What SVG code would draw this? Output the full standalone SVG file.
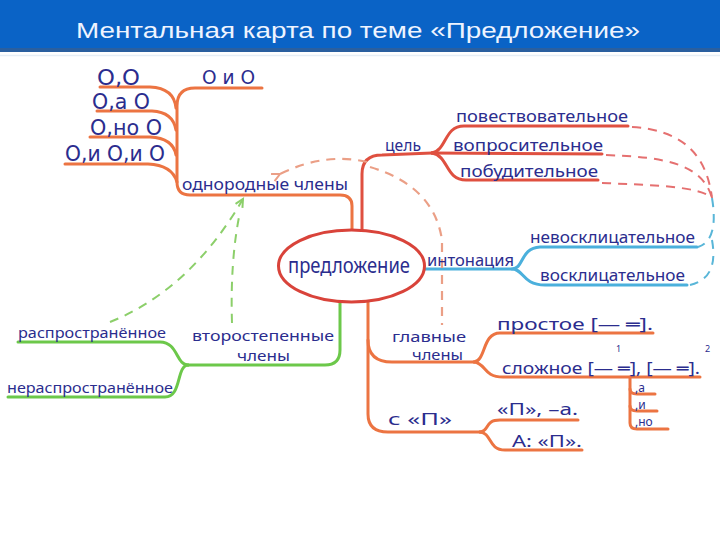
<svg xmlns="http://www.w3.org/2000/svg" width="720" height="540" viewBox="0 0 720 540">
<defs>
<style>
.t{font-family:"Noto Sans","DejaVu Sans",sans-serif;fill:#2b2d8e;}
.o{font-family:"DejaVu Sans",sans-serif;fill:#2b2d8e;}
.ln{fill:none;stroke-width:3;stroke-linecap:round;stroke-linejoin:round;}
.or{stroke:#ec7442;}
.rd{stroke:#df5040;}
.bl{stroke:#4bb0dc;}
.gr{stroke:#6cc84a;}
.dr{fill:none;stroke:#e57070;stroke-width:2;stroke-dasharray:9 7;}
.db{fill:none;stroke:#59b6d8;stroke-width:2;stroke-dasharray:9 7;}
.do{fill:none;stroke:#eb9f86;stroke-width:2.2;stroke-dasharray:9 7;}
.dg{fill:none;stroke:#8ccf6a;stroke-width:2;stroke-dasharray:9 7;}
</style>
<marker id="ao" markerWidth="12" markerHeight="12" refX="1" refY="5" orient="auto" markerUnits="userSpaceOnUse">
<path d="M9,1 L1,5 L9,9" fill="none" stroke="#eb9f86" stroke-width="2"/>
</marker>
<marker id="ag" markerWidth="12" markerHeight="12" refX="9" refY="5" orient="auto" markerUnits="userSpaceOnUse">
<path d="M1,1 L9,5 L1,9" fill="none" stroke="#8ccf6a" stroke-width="2"/>
</marker>
</defs>
<rect x="0" y="0" width="720" height="540" fill="#ffffff"/>
<g id="header">
<rect x="0" y="0" width="720" height="49" fill="#0a63c6"/>
<rect x="0" y="48" width="720" height="4" fill="#2a5f9f"/>
<text x="76" y="38" font-family="Liberation Sans, Arial, sans-serif" font-size="22" fill="#eef4ff" textLength="564" lengthAdjust="spacingAndGlyphs">Ментальная карта по теме «Предложение»</text>
</g>
<line x1="0" y1="55.5" x2="720" y2="55.5" stroke="#e6eef6" stroke-width="1.5"/>
<g id="connectors">
<path class="ln or" d="M352,230 L352,206 Q352,195 340,195 L190,195 Q177,195 177,182 L177,106 Q177,88 195,88 L262,88"/>
<path class="ln or" d="M100,87 L150,87 Q174,88 176,108"/>
<path class="ln or" d="M97,111 L152,111 Q173,112 176,130"/>
<path class="ln or" d="M90,137 L150,137 Q173,138 176,155"/>
<path class="ln or" d="M65,164 L148,164 Q172,165 177,182"/>
<path class="ln rd" d="M362,230 L362,174 Q362,155 382,155 L432,153"/>
<path class="ln rd" d="M432,153 C447,150 444,126 464,126 L628,126"/>
<path class="ln rd" d="M432,153 L602,154"/>
<path class="ln rd" d="M432,153 C449,156 445,180 466,180 L598,180"/>
<path class="ln bl" d="M425,269 L512,269 C524,269 520,248 540,247 L697,247"/>
<path class="ln bl" d="M512,269 C524,269 522,285 545,285 L687,285"/>
<path class="ln gr" d="M340,302 L340,350 Q340,365 325,365 L188,365"/>
<path class="ln gr" d="M188,365 C176,365 178,342 160,342 L18,342"/>
<path class="ln gr" d="M188,365 C176,366 182,397 165,397 L8,397"/>
<path class="ln or" d="M368,302 L368,414 Q368,432 388,432 L480,432"/>
<path class="ln or" d="M368,340 Q368,362 392,362 L474,362"/>
<path class="ln or" d="M474,362 C486,361 482,333 500,333 L653,333"/>
<path class="ln or" d="M474,362 C486,363 483,377 503,377 L700,377"/>
<path class="ln or" d="M480,432 C490,431 484,420 500,420 L578,420"/>
<path class="ln or" d="M480,432 C492,433 488,450 505,450 L582,450"/>
<path class="ln or" d="M630,377 L630,423 Q630,429 637,429 L668,429"/>
<path class="ln or" d="M630,389 Q630,394 637,394 L655,394"/>
<path class="ln or" d="M630,406 Q630,411 637,411 L657,411"/>
<path class="dr" d="M632,127 C678,130 706,150 712,198"/>
<path class="dr" d="M606,155 C660,157 702,162 712,198"/>
<path class="dr" d="M602,183 C650,185 700,186 712,198"/>
<path class="db" d="M712,198 C716,222 714,242 698,247"/>
<path class="db" d="M712,240 C716,262 712,280 690,285"/>
<path class="do" d="M367,162 Q325,152 280,174" marker-end="url(#ao)"/>
<path class="do" d="M370,167 Q434,186 442,240 L442,325"/>
<path class="dg" d="M110,322 Q190,290 243,199" marker-end="url(#ag)"/>
<path class="dg" d="M232,323 Q230,260 240,212"/>
</g>
<g id="center">
<ellipse cx="351.5" cy="266" rx="73" ry="36" fill="#ffffff" stroke="#d9433a" stroke-width="3"/>
<text class="t" x="288" y="273" font-size="21" textLength="122" lengthAdjust="spacingAndGlyphs">предложение</text>
</g>
<g id="node-odnorodnye">
<text class="t" x="182" y="190" font-size="16" textLength="166" lengthAdjust="spacingAndGlyphs">однородные члены</text>
</g>
<g id="node-o1"><text class="o" x="97" y="85" font-size="21" textLength="43" lengthAdjust="spacingAndGlyphs">О,О</text></g>
<g id="node-o2"><text class="o" x="92" y="109" font-size="21" textLength="58" lengthAdjust="spacingAndGlyphs">О,а О</text></g>
<g id="node-o3"><text class="o" x="90" y="135" font-size="21" textLength="72" lengthAdjust="spacingAndGlyphs">О,но О</text></g>
<g id="node-o4"><text class="o" x="65" y="161" font-size="21" textLength="100" lengthAdjust="spacingAndGlyphs">О,и О,и О</text></g>
<g id="node-o5"><text class="o" x="202" y="84" font-size="20" textLength="53" lengthAdjust="spacingAndGlyphs">О и О</text></g>
<g id="node-cel"><text class="t" x="385" y="151" font-size="16" textLength="36" lengthAdjust="spacingAndGlyphs">цель</text></g>
<g id="node-povest"><text class="t" x="456" y="122" font-size="16" textLength="172" lengthAdjust="spacingAndGlyphs">повествовательное</text></g>
<g id="node-vopros"><text class="t" x="453" y="151" font-size="16" textLength="150" lengthAdjust="spacingAndGlyphs">вопросительное</text></g>
<g id="node-pobud"><text class="t" x="460" y="177" font-size="16" textLength="138" lengthAdjust="spacingAndGlyphs">побудительное</text></g>
<g id="node-inton"><text class="t" x="427" y="266" font-size="16" textLength="87" lengthAdjust="spacingAndGlyphs">интонация</text></g>
<g id="node-nevoskl"><text class="t" x="530" y="243" font-size="16" textLength="165" lengthAdjust="spacingAndGlyphs">невосклицательное</text></g>
<g id="node-voskl"><text class="t" x="540" y="281" font-size="16" textLength="145" lengthAdjust="spacingAndGlyphs">восклицательное</text></g>
<g id="node-vtor">
<text class="t" x="192" y="341" font-size="15" textLength="142" lengthAdjust="spacingAndGlyphs">второстепенные</text>
<text class="t" x="237" y="361" font-size="15" textLength="53" lengthAdjust="spacingAndGlyphs">члены</text>
</g>
<g id="node-rasp"><text class="t" x="18" y="338" font-size="15" textLength="148" lengthAdjust="spacingAndGlyphs">распространённое</text></g>
<g id="node-nerasp"><text class="t" x="7" y="393" font-size="15" textLength="166" lengthAdjust="spacingAndGlyphs">нераспространённое</text></g>
<g id="node-glav">
<text class="t" x="392" y="342" font-size="15" textLength="74" lengthAdjust="spacingAndGlyphs">главные</text>
<text class="t" x="412" y="360" font-size="15" textLength="51" lengthAdjust="spacingAndGlyphs">члены</text>
</g>
<g id="node-prost"><text class="t" x="497" y="330" font-size="16" textLength="156" lengthAdjust="spacingAndGlyphs">простое [— ═].</text></g>
<g id="node-slozh">
<text class="t" x="502" y="374" font-size="16" textLength="198" lengthAdjust="spacingAndGlyphs">сложное [— ═], [— ═].</text>
<text class="t" x="616" y="352" font-size="9">1</text>
<text class="t" x="705" y="352" font-size="9">2</text>
</g>
<g id="node-a"><text class="t" x="635" y="392" font-size="12">,а</text></g>
<g id="node-i"><text class="t" x="635" y="409" font-size="12">,и</text></g>
<g id="node-no"><text class="t" x="635" y="426" font-size="12">,но</text></g>
<g id="node-sp"><text class="t" x="388" y="425" font-size="16" textLength="64" lengthAdjust="spacingAndGlyphs">с «П»</text></g>
<g id="node-pa"><text class="t" x="497" y="415" font-size="16" textLength="81" lengthAdjust="spacingAndGlyphs">«П», –а.</text></g>
<g id="node-ap"><text class="t" x="512" y="447" font-size="16" textLength="70" lengthAdjust="spacingAndGlyphs">А: «П».</text></g>
</svg>
